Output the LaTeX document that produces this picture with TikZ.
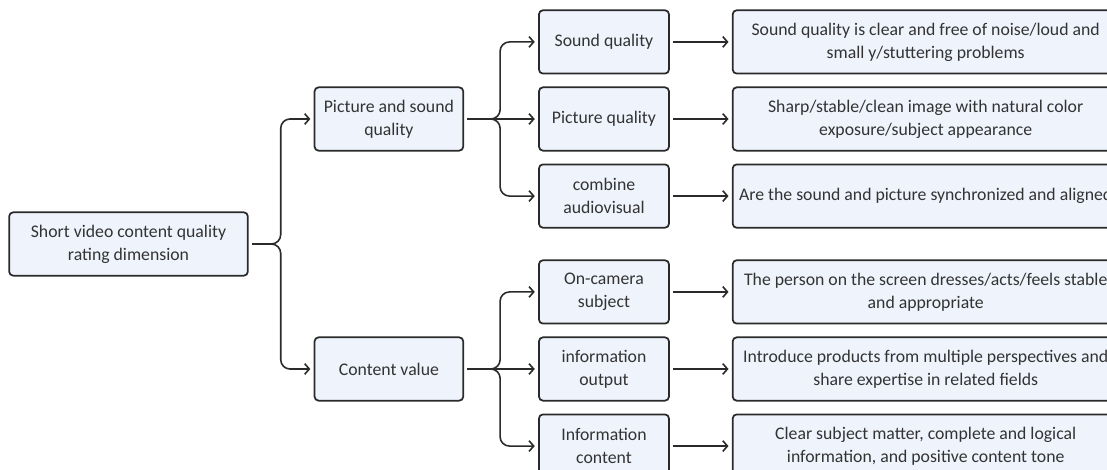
\documentclass[tikz,border=0pt]{standalone}
\usepackage{fontspec}
\setmainfont{Carlito}
\usepackage{xcolor}
\usetikzlibrary{arrows.meta,positioning}
\definecolor{boxfill}{HTML}{EEF3FC}
\definecolor{boxline}{HTML}{2A2A2A}
\definecolor{txt}{HTML}{333333}

\begin{document}
\begin{tikzpicture}[
    x=0.75pt, y=-0.75pt,
    font=\fontsize{13.3}{17.25}\selectfont,
    box/.style={draw=boxline, line width=1.3pt, rounded corners=3pt, fill=boxfill, text=txt, align=center, minimum height=47.5pt, inner sep=2pt},
    rootbox/.style={box, minimum width=179pt},
    midbox/.style={box, minimum width=111.5pt},
    leafbox/.style={box, minimum width=97.5pt},
    descbox/.style={box, minimum width=289.5pt},
    arr/.style={-{Straight Barb[length=3.5pt,width=8pt]}, line width=1.2pt, draw=boxline, shorten <=2.5pt, shorten >=2.5pt},
    fork/.style={arr, rounded corners=7pt}
]
\useasboundingbox (0,0) rectangle (1107,470);
\clip (0,0) rectangle (1107,470);

% root and first level
\node[rootbox] (root) at (128.5,244) {Short video content quality\\rating dimension};
\node[midbox, right=48.75pt of root, yshift=93.75pt] (av) {Picture and sound\\quality};
\node[midbox, right=48.75pt of root, yshift=-93.75pt] (cv) {Content value};

% second level
\node[leafbox, right=55.5pt of av] (pq) {Picture quality};
\node[leafbox, above=9pt of pq] (sq) {Sound quality};
\node[leafbox, below=9pt of pq] (ca) {combine\\audiovisual};
\node[leafbox, right=55.5pt of cv] (io) {information\\output};
\node[leafbox, above=9pt of io] (oc) {On-camera\\subject};
\node[leafbox, below=9pt of io] (ic) {Information\\content};

% descriptions
\node[descbox, right=46.5pt of sq] (dsq) {Sound quality is clear and free of noise/loud and\\small y/stuttering problems};
\node[descbox, right=46.5pt of pq] (dpq) {Sharp/stable/clean image with natural color\\exposure/subject appearance};
\node[descbox, right=46.5pt of ca] (dca) {Are the sound and picture synchronized and aligned};
\node[descbox, right=46.5pt of oc] (doc) {The person on the screen dresses/acts/feels stable\\and appropriate};
\node[descbox, right=46.5pt of io] (dio) {Introduce products from multiple perspectives and\\share expertise in related fields};
\node[descbox, right=46.5pt of ic] (dic) {Clear subject matter, complete and logical\\information, and positive content tone};

% forks
\draw[fork] (root.east) -- ++(32,0) |- (av.west);
\draw[fork] (root.east) -- ++(32,0) |- (cv.west);
\draw[fork] (av.east) -- ++(36,0) |- (sq.west);
\draw[arr] (av.east) -- (pq.west);
\draw[fork] (av.east) -- ++(36,0) |- (ca.west);
\draw[fork] (cv.east) -- ++(36,0) |- (oc.west);
\draw[arr] (cv.east) -- (io.west);
\draw[fork] (cv.east) -- ++(36,0) |- (ic.west);

% straight links
\draw[arr] (sq) -- (dsq);
\draw[arr] (pq) -- (dpq);
\draw[arr] (ca) -- (dca);
\draw[arr] (oc) -- (doc);
\draw[arr] (io) -- (dio);
\draw[arr] (ic) -- (dic);
\end{tikzpicture}
\end{document}
